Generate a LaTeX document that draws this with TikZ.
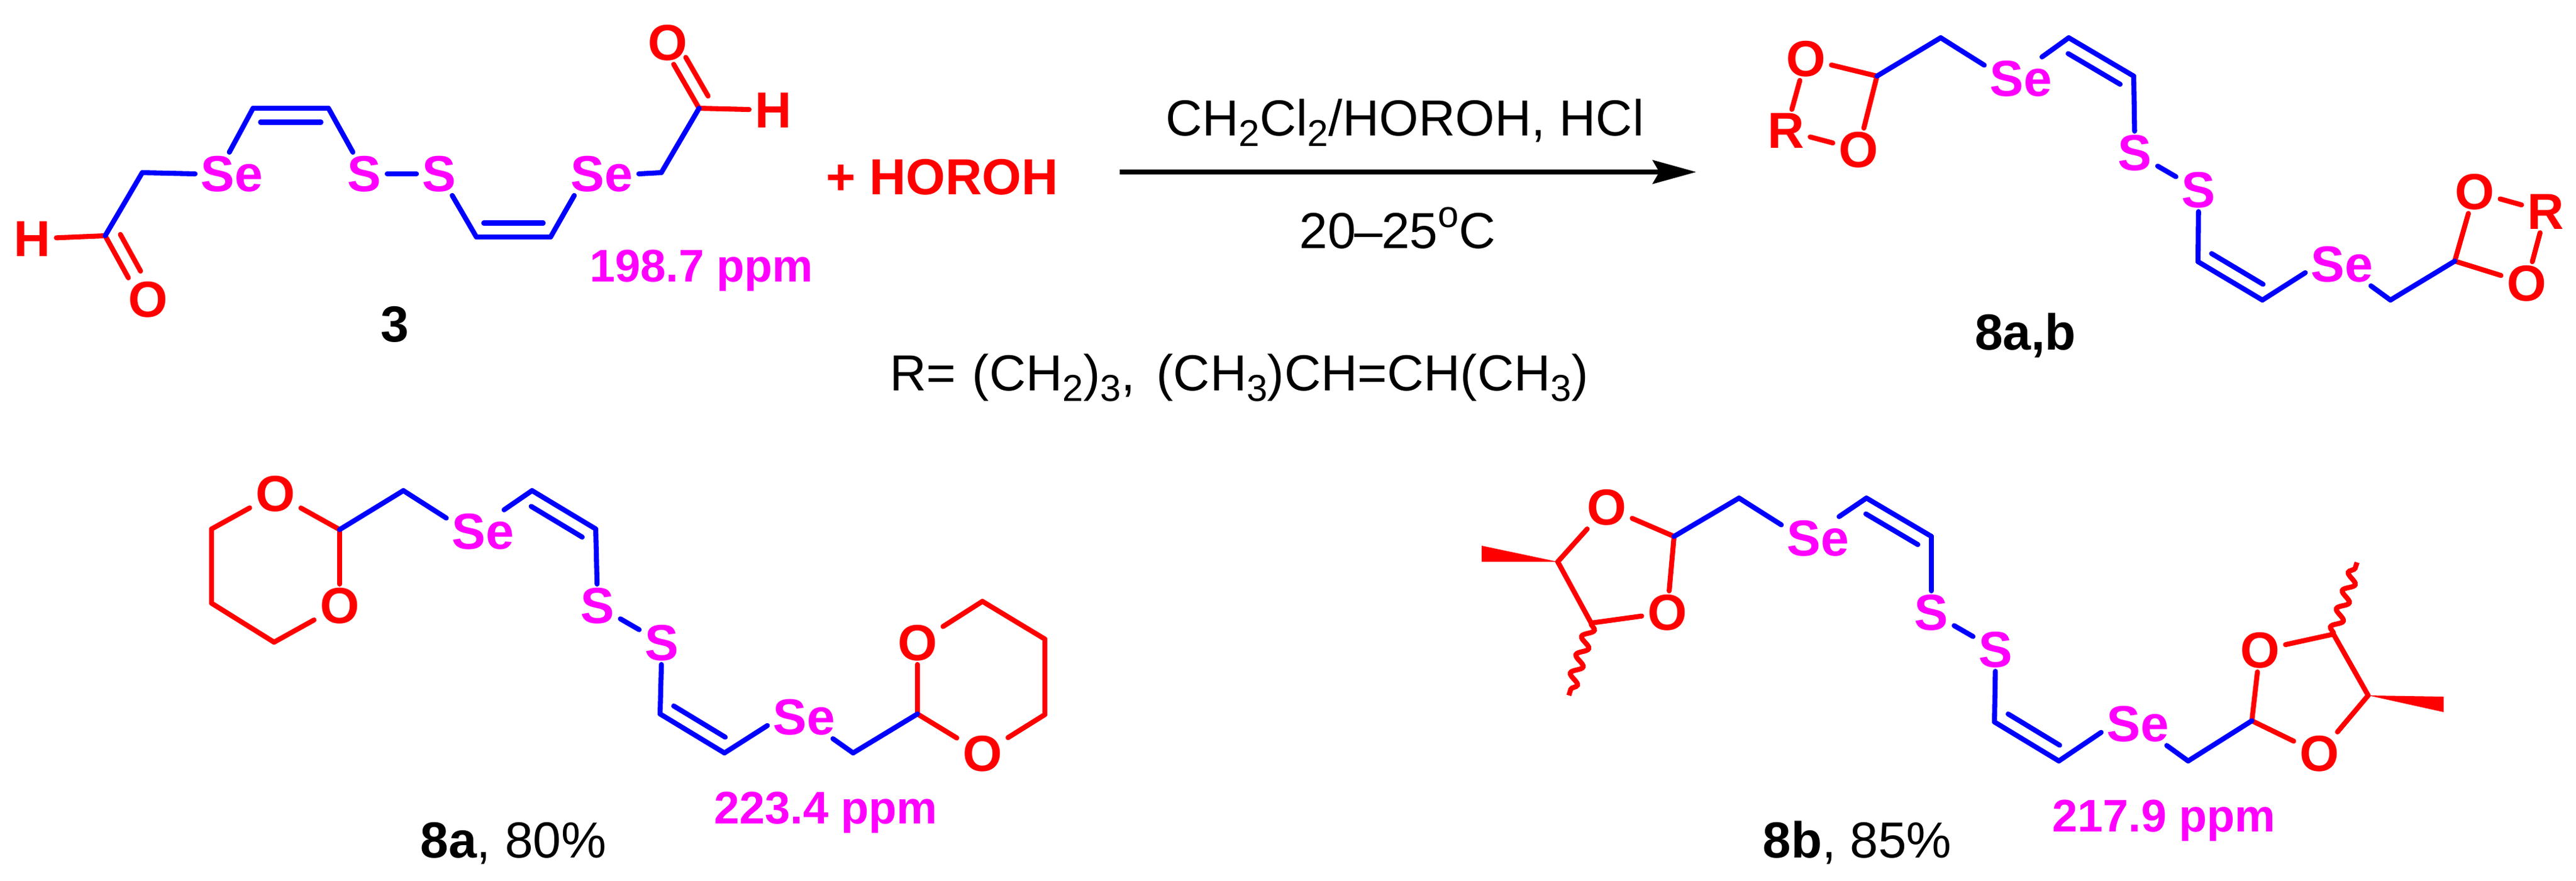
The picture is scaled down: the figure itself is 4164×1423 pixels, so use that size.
\documentclass[tikz,border=0pt]{standalone}
\usepackage{fontspec}
\setsansfont{Liberation Sans}
\usetikzlibrary{arrows.meta,calc,decorations.pathmorphing}
\definecolor{selenium}{RGB}{255,0,255}
\newcommand{\labelsize}{\fontsize{23.3}{28}\selectfont}
\newcommand{\sbc}[1]{\raisebox{-4.9pt}{\fontsize{17.2}{20}\selectfont #1}}
\newcommand{\spc}[1]{\raisebox{9.8pt}{\fontsize{17.2}{20}\selectfont #1}}
\newcommand{\innerbond}[6][bluebond]{\draw [#1] ($(#2)!#5!(#3)!6.4pt!#4*90:(#3)$) -- ($(#3)!#6!(#2)!6.4pt!-1*#4*90:(#2)$);}
\tikzstyle{every picture}+=[font=\sffamily\labelsize]

\begin{document}
\begin{tikzpicture}[x=0.01cm,y=-0.01cm,
    bluebond/.style={draw=blue,line width=2.3pt,line cap=round},
    redbond/.style={draw=red,line width=2.3pt,line cap=round},
    wavybond/.style={redbond,line cap=butt,decorate,decoration={snake,amplitude=2.4pt,segment length=8.8pt}},
    atomse/.style={text=selenium,font=\sffamily\bfseries\labelsize,inner xsep=2.5pt,inner ysep=1.5pt},
    atomred/.style={text=red,font=\sffamily\bfseries\labelsize,inner xsep=2.5pt,inner ysep=1.5pt},
    ppmlabel/.style={text=selenium,font=\sffamily\bfseries\fontsize{21}{25}\selectfont,anchor=base,inner sep=0pt},
    compname/.style={font=\sffamily\bfseries\labelsize,anchor=base,inner sep=0pt},
    textlabel/.style={anchor=base,inner sep=0pt}]
    \useasboundingbox (0,0) rectangle (4164,1423);

    % compound 3
    \node [atomred] (aldh1) at (52,386) {H};
    \coordinate (aldc1) at (170,381);
    \node [atomred] (aldo1) at (239,484) {O};
    \coordinate (aldch1) at (230,279);
    \node [atomse] (aldse1) at (375,281) {Se};
    \coordinate (aldv1) at (409,175);
    \coordinate (aldv2) at (531,175);
    \node [atomse] (alds1) at (589,281) {S};
    \node [atomse] (alds2) at (710,281) {S};
    \coordinate (aldv3) at (770,383);
    \coordinate (aldv4) at (890,383);
    \node [atomse] (aldse2) at (973,281) {Se};
    \coordinate (aldch2) at (1069,279);
    \coordinate (aldc2) at (1130,175);
    \node [atomred] (aldo2) at (1079,69) {O};
    \node [atomred] (aldh2) at (1250,178) {H};
    \path [redbond] (aldh1) edge (aldc1) (aldc1) edge (aldo1.132) (aldc2) edge (aldo2.286) (aldc2) edge (aldh2);
    \path [bluebond] (aldc1) edge (aldch1) (aldch1) edge (aldse1.west) (aldse1.97) edge (aldv1) (aldv1) edge (aldv2) (aldv2) edge (alds1.118)
        (alds1) edge (alds2) (alds2.301) edge (aldv3) (aldv3) edge (aldv4) (aldv4) edge (aldse2.218) (aldse2.east) edge (aldch2) (aldch2) edge (aldc2);
    \innerbond{aldv1}{aldv2}{-1}{.1}{.1}
    \innerbond{aldv3}{aldv4}{1}{.1}{.1}
    \innerbond[redbond]{aldc1}{aldo1.132}{1}{.13}{0}
    \innerbond[redbond]{aldc2}{aldo2.286}{-1}{.12}{0}
    \node [ppmlabel] (aldppm) at (1134,455) {198.7 ppm};
    \node [compname] (aldname) at (638,552) {3};

    % reagent and arrow
    \node [text=red,font=\sffamily\bfseries\labelsize,anchor=base,inner sep=0pt] (reagent) at (1523,314) {+ HOROH};
    \coordinate (arrowstart) at (1810,278);
    \coordinate (arrowend) at (2742,278);
    \path [-{Stealth[length=20pt,width=10.8pt,inset=3pt]},line width=2.3pt] (arrowstart) edge (arrowend);
    \node [textlabel] (solvent) at (2271,219) {CH\sbc{2}Cl\sbc{2}/HOROH, HCl};
    \node [textlabel] (temperature) at (2259,401.5) {20\kern-.6pt--\kern-.6pt25\spc{o}C};
    \node [textlabel] (rgroup) at (2003,631) {R=\kern1pt{} (CH\sbc{2})\sbc{3},\kern3.4pt{} (CH\sbc{3})CH=CH(CH\sbc{3})};

    % compound 8a,b
    \node [atomred] (geno1) at (2919,95) {O};
    \node [atomred] (genr1) at (2887,211) {R};
    \node [atomred] (geno2) at (3004,242) {O};
    \coordinate (genc1) at (3034,123);
    \coordinate (gench1) at (3137,61);
    \node [atomse] (gense1) at (3267,127) {Se};
    \coordinate (genv1) at (3344,61);
    \coordinate (genv2) at (3449,123);
    \node [atomse] (gens1) at (3451,247) {S};
    \node [atomse] (gens2) at (3554,307) {S};
    \coordinate (genv3) at (3553,423);
    \coordinate (genv4) at (3657,485);
    \node [atomse] (gense2) at (3786,427) {Se};
    \coordinate (gench2) at (3864,485);
    \coordinate (genc2) at (3968,422);
    \node [atomred] (geno3) at (4000,310) {O};
    \node [atomred] (genr2) at (4115,342) {R};
    \node [atomred] (geno4) at (4084,458) {O};
    \path [redbond] (geno1) edge (genr1) (genr1) edge (geno2) (geno2) edge (genc1) (genc1) edge (geno1)
        (genc2) edge (geno3) (geno3) edge (genr2) (genr2) edge (geno4) (geno4) edge (genc2);
    \path [bluebond] (genc1) edge (gench1) (gench1) edge (gense1.160) (gense1.46) edge (genv1) (genv1) edge (genv2) (genv2) edge (gens1)
        (gens1) edge (gens2) (gens2) edge (genv3) (genv3) edge (genv4) (genv4) edge (gense2.193) (gense2.323) edge (gench2) (gench2) edge (genc2);
    \innerbond{genv1}{genv2}{-1}{.1}{.1}
    \innerbond{genv3}{genv4}{1}{.1}{.1}
    \node [compname] (genname) at (3274,565) {8a,b};

    % compound 8a
    \node [atomred] (dxo1) at (445,798) {O};
    \coordinate (dxc1) at (549,856);
    \node [atomred] (dxo2) at (549,979) {O};
    \coordinate (dxr1) at (342,855);
    \coordinate (dxr2) at (342,975);
    \coordinate (dxr3) at (443,1038);
    \coordinate (dxch1) at (652,793);
    \node [atomse] (dxse1) at (781,859) {Se};
    \coordinate (dxv1) at (860,793);
    \coordinate (dxv2) at (963,855);
    \node [atomse] (dxs1) at (966,979) {S};
    \node [atomse] (dxs2) at (1070,1039) {S};
    \coordinate (dxv3) at (1067,1154);
    \coordinate (dxv4) at (1171,1217);
    \node [atomse] (dxse2) at (1300,1159) {Se};
    \coordinate (dxch2) at (1379,1217);
    \coordinate (dxc2) at (1483,1154);
    \node [atomred] (dxo3) at (1483,1039) {O};
    \node [atomred] (dxo4) at (1588,1218) {O};
    \coordinate (dxr4) at (1689,1155);
    \coordinate (dxr5) at (1689,1033);
    \coordinate (dxr6) at (1588,972);
    \path [redbond] (dxo1) edge (dxc1) (dxc1) edge (dxo2) (dxo1) edge (dxr1) (dxr1) edge (dxr2) (dxr2) edge (dxr3) (dxr3) edge (dxo2)
        (dxc2) edge (dxo3) (dxc2) edge (dxo4) (dxo4) edge (dxr4) (dxr4) edge (dxr5) (dxr5) edge (dxr6) (dxr6) edge (dxo3);
    \path [bluebond] (dxc1) edge (dxch1) (dxch1) edge (dxse1.160) (dxse1.46) edge (dxv1) (dxv1) edge (dxv2) (dxv2) edge (dxs1)
        (dxs1) edge (dxs2) (dxs2) edge (dxv3) (dxv3) edge (dxv4) (dxv4) edge (dxse2.193) (dxse2.323) edge (dxch2) (dxch2) edge (dxc2);
    \innerbond{dxv1}{dxv2}{-1}{.1}{.1}
    \innerbond{dxv3}{dxv4}{1}{.1}{.1}
    \node [ppmlabel] (dxppm) at (1335,1331) {223.4 ppm};
    \node [textlabel] (dxname) at (830,1386) {\textbf{8a}, 80\%};

    % compound 8b
    \node [atomred] (dlo1) at (2597,820) {O};
    \coordinate (dlc1) at (2706,867);
    \node [atomred] (dlo2) at (2695,990) {O};
    \coordinate (dlr1) at (2518,908);
    \coordinate (dlr2) at (2572,1007);
    \coordinate (dlwa) at (2395,882);
    \coordinate (dlwb) at (2395,908);
    \coordinate (dlme1) at (2536,1124);
    \coordinate (dlch1) at (2811,805);
    \node [atomse] (dlse1) at (2939,870) {Se};
    \coordinate (dlv1) at (3017,805);
    \coordinate (dlv2) at (3122,867);
    \node [atomse] (dls1) at (3122,990) {S};
    \node [atomse] (dls2) at (3226,1050) {S};
    \coordinate (dlv3) at (3224,1167);
    \coordinate (dlv4) at (3328,1230);
    \node [atomse] (dlse2) at (3456,1170) {Se};
    \coordinate (dlch2) at (3537,1230);
    \coordinate (dlc2) at (3640,1165);
    \node [atomred] (dlo3) at (3653,1051) {O};
    \node [atomred] (dlo4) at (3749,1218) {O};
    \coordinate (dlr3) at (3772,1025);
    \coordinate (dlr4) at (3828,1124);
    \coordinate (dlwc) at (3950,1126);
    \coordinate (dlwd) at (3950,1151);
    \coordinate (dlme2) at (3810,909);
    \path [redbond] (dlo1) edge (dlc1) (dlc1) edge (dlo2) (dlo2) edge (dlr2) (dlr2) edge (dlr1) (dlr1) edge (dlo1)
        (dlc2) edge (dlo3) (dlo3) edge (dlr3) (dlr3) edge (dlr4) (dlr4) edge (dlo4) (dlo4) edge (dlc2);
    \draw [wavybond] (dlr2) -- (dlme1);
    \draw [wavybond] (dlr3) -- (dlme2);
    \fill [red] (dlr1) -- (dlwa) -- (dlwb) -- cycle;
    \fill [red] (dlr4) -- (dlwc) -- (dlwd) -- cycle;
    \path [bluebond] (dlc1) edge (dlch1) (dlch1) edge (dlse1.160) (dlse1.46) edge (dlv1) (dlv1) edge (dlv2) (dlv2) edge (dls1)
        (dls1) edge (dls2) (dls2) edge (dlv3) (dlv3) edge (dlv4) (dlv4) edge (dlse2.193) (dlse2.323) edge (dlch2) (dlch2) edge (dlc2);
    \innerbond{dlv1}{dlv2}{-1}{.1}{.1}
    \innerbond{dlv3}{dlv4}{1}{.1}{.1}
    \node [ppmlabel] (dlppm) at (3498,1344) {217.9 ppm};
    \node [textlabel] (dlname) at (3002,1386) {\textbf{8b}, 85\%};
\end{tikzpicture}
\end{document}
